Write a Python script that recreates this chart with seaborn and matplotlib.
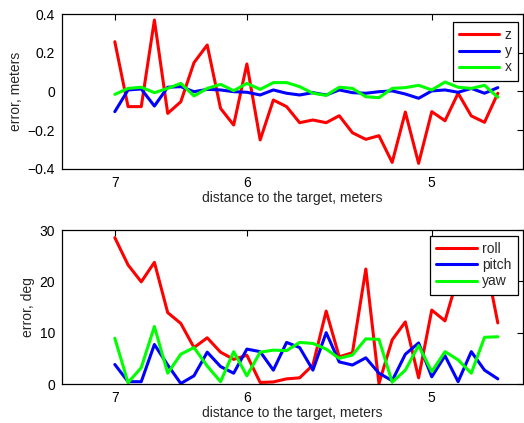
import matplotlib
matplotlib.use("Agg")
import matplotlib.pyplot as plt
import seaborn as sns
import pandas as pd
from matplotlib.ticker import FuncFormatter

# distance to target (m) for each sample
dist = [7.000, 6.885, 6.774, 6.667, 6.562, 6.462, 6.364, 6.269, 6.176, 6.087,
        6.000, 5.915, 5.833, 5.753, 5.676, 5.600, 5.526, 5.455, 5.385, 5.316,
        5.250, 5.185, 5.122, 5.060, 5.000, 4.941, 4.884, 4.828, 4.773, 4.719]

# position errors, meters
err_z = [0.257, -0.078, -0.078, 0.369, -0.113, -0.053, 0.149, 0.240, -0.087, -0.173,
         0.142, -0.250, -0.044, -0.078, -0.161, -0.147, -0.161, -0.125, -0.213, -0.247,
         -0.228, -0.366, -0.106, -0.371, -0.104, -0.151, -0.009, -0.126, -0.159, -0.009]
err_y = [-0.104, 0.008, 0.013, -0.075, 0.022, 0.025, -0.001, 0.011, 0.008, -0.001,
         -0.004, -0.018, 0.008, -0.009, -0.018, -0.006, -0.018, 0.008, -0.006, -0.009,
         -0.001, 0.003, -0.013, -0.035, 0.003, 0.008, -0.004, 0.016, -0.009, 0.020]
err_x = [-0.015, 0.016, 0.022, -0.006, 0.016, 0.042, -0.023, 0.016, 0.037, 0.004,
         0.042, 0.011, 0.046, 0.046, 0.025, -0.009, -0.020, 0.022, 0.016, -0.027,
         -0.032, 0.016, 0.020, 0.032, 0.008, 0.049, 0.022, 0.016, 0.032, -0.030]

# attitude errors, deg
err_roll = [28.5, 23.2, 19.9, 23.7, 13.9, 11.8, 7.1, 9.0, 6.2, 4.8,
            5.6, 0.3, 0.4, 1.0, 1.2, 3.7, 14.2, 5.3, 6.1, 22.4,
            0.1, 8.6, 12.1, 1.2, 14.4, 12.3, 21.0, 27.0, 25.0, 11.9]
err_pitch = [3.8, 0.45, 0.45, 7.7, 3.7, 0.1, 1.6, 6.2, 3.4, 2.1,
             6.8, 6.3, 2.7, 8.1, 7.1, 2.7, 10.0, 4.3, 3.7, 5.1,
             2.1, 0.65, 5.8, 8.0, 1.4, 5.5, 0.45, 6.3, 2.7, 1.0]
err_yaw = [8.9, 0.25, 3.2, 11.2, 2.1, 5.8, 7.1, 3.5, 0.45, 6.3,
           1.6, 6.2, 6.6, 6.5, 8.1, 7.9, 6.8, 5.0, 5.65, 8.8,
           8.7, 0.35, 2.7, 7.5, 2.4, 6.3, 4.7, 2.1, 9.1, 9.2]

xticks = [7, 6, 5]

sns.set_style("white")
plt.rcParams['font.family'] = ['Liberation Sans', 'DejaVu Sans']
plt.rcParams['font.size'] = 10
plt.rcParams['axes.unicode_minus'] = True

fig = plt.figure(figsize=(5.24, 4.23), dpi=100)
ax1 = fig.add_axes([62/524, 1-169/423, 461/524, 155/423])
ax2 = fig.add_axes([62/524, 1-384/423, 461/524, 154/423])

inv = [1.0/d for d in dist]

top = pd.DataFrame({"inv": inv, "z": err_z, "y": err_y, "x": err_x})
bot = pd.DataFrame({"inv": inv, "roll": err_roll, "pitch": err_pitch, "yaw": err_yaw})

cols = ["#ff0000", "#0000ff", "#00ff00"]

for name, c in zip(["z", "y", "x"], cols):
    sns.lineplot(data=top, x="inv", y=name, color=c, linewidth=2.2, label=name, ax=ax1)
for name, c in zip(["roll", "pitch", "yaw"], cols):
    sns.lineplot(data=bot, x="inv", y=name, color=c, linewidth=2.2, label=name, ax=ax2)


def fmt(v, pos):
    s = "%g" % round(v, 6)
    return s.replace("-", "\u2212")


for ax in (ax1, ax2):
    ax.set_xlim(1/7.5, 1/4.62)
    ax.set_xticks([1.0/t for t in xticks])
    ax.set_xticklabels([str(t) for t in xticks])
    ax.set_xlabel("distance to the target, meters", labelpad=1)
    ax.tick_params(direction="in", top=True, right=True, length=4, width=0.8,
                   colors="black", labelsize=10, pad=5)
    ax.yaxis.set_major_formatter(FuncFormatter(fmt))
    for sp in ax.spines.values():
        sp.set_color("black")
        sp.set_linewidth(0.9)

ax1.set_ylim(-0.4, 0.4)
ax1.set_yticks([-0.4, -0.2, 0, 0.2, 0.4])
ax1.set_ylabel("error, meters", labelpad=3)
ax2.set_ylim(0, 30)
ax2.set_yticks([0, 10, 20, 30])
ax2.set_ylabel("error, deg", labelpad=3)

leg_kw = dict(loc="upper right", borderaxespad=0, fancybox=False, framealpha=1,
              edgecolor="black", handlelength=2.9, handletextpad=0.4,
              labelspacing=0.15, borderpad=0.45, fontsize=10)
l1 = ax1.legend(bbox_to_anchor=(0.989, 0.948), **leg_kw)
l2 = ax2.legend(bbox_to_anchor=(0.989, 0.961), **leg_kw)
for l in (l1, l2):
    l.get_frame().set_linewidth(0.9)

fig.savefig("out.png", dpi=100)
